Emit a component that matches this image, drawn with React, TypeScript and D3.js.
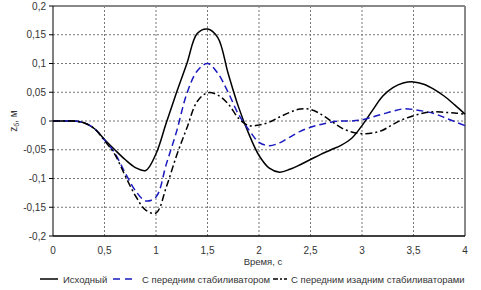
import React from "react";
import * as d3 from "d3";

const time = [0, 0.1, 0.2, 0.3, 0.4, 0.5, 0.6, 0.7, 0.8, 0.9, 1.0, 1.1, 1.2, 1.3, 1.4, 1.5, 1.6, 1.7, 1.8, 1.9, 2.0, 2.1, 2.2, 2.3, 2.4, 2.5, 2.6, 2.7, 2.8, 2.9, 3.0, 3.1, 3.2, 3.3, 3.4, 3.5, 3.6, 3.7, 3.8, 3.9, 4.0];

const original = [0, 0, 0, -0.003, -0.013, -0.032, -0.05, -0.067, -0.081, -0.086, -0.057, -0.003, 0.05, 0.1, 0.152, 0.16, 0.145, 0.083, 0.025, -0.022, -0.06, -0.082, -0.089, -0.084, -0.076, -0.067, -0.058, -0.05, -0.042, -0.03, -0.008, 0.018, 0.043, 0.058, 0.066, 0.068, 0.064, 0.055, 0.043, 0.028, 0.012];

const frontStab = [0, 0, 0, -0.003, -0.013, -0.033, -0.056, -0.09, -0.121, -0.139, -0.132, -0.075, -0.018, 0.048, 0.087, 0.1, 0.083, 0.05, 0.012, -0.015, -0.037, -0.043, -0.038, -0.028, -0.018, -0.011, -0.006, -0.002, 0, 0, 0.002, 0.007, 0.012, 0.017, 0.021, 0.02, 0.017, 0.013, 0.006, -0.001, -0.008];

const frontRearStab = [0, 0, 0, -0.003, -0.013, -0.034, -0.058, -0.095, -0.13, -0.155, -0.16, -0.115, -0.06, -0.012, 0.034, 0.049, 0.045, 0.03, 0.005, -0.008, -0.007, -0.002, 0.007, 0.015, 0.021, 0.02, 0.012, 0, -0.012, -0.019, -0.022, -0.021, -0.016, -0.006, 0.003, 0.009, 0.014, 0.016, 0.015, 0.014, 0.012];

const xTicks = [0, 0.5, 1, 1.5, 2, 2.5, 3, 3.5, 4];
const yTicks = [-0.2, -0.15, -0.1, -0.05, 0, 0.05, 0.1, 0.15, 0.2];
const legendLabels = ["Исходный", "С передним стабиливатором", "С передним изадним стабиливаторами"];

const W = 481;
const H = 290;
const L = 53;
const R = 465;
const T = 6;
const B = 236;

const fmt = (v: number) => {
  const s = String(Math.round(v * 1000) / 1000);
  return s.replace(".", ",");
};

export default function App() {
  const x = d3.scaleLinear().domain([0, 4]).range([L, R]);
  const y = d3.scaleLinear().domain([-0.2, 0.2]).range([B, T]);
  const line = d3
    .line<number>()
    .x((_, i) => x(time[i]))
    .y((d) => y(d))
    .curve(d3.curveCatmullRom.alpha(0.5));

  const series = [
    { data: original, color: "#000", dash: undefined as string | undefined },
    { data: frontStab, color: "#1a1ac0", dash: "7,4" },
    { data: frontRearStab, color: "#000", dash: "7,3,2,3" },
  ];

  const legendPos = [
    { lx: 40, lw: 18, tx: 63 },
    { lx: 113, lw: 19, tx: 142 },
    { lx: 273, lw: 14, tx: 291 },
  ];
  const font = "'Liberation Sans', Arial, sans-serif";

  return (
    <svg
      width={W}
      height={H}
      style={{ position: "absolute", left: 0, top: 0, background: "#fff" }}
      fontFamily={font}
    >
      <rect x={0} y={0} width={W} height={H} fill="#fff" />
      {xTicks.slice(1, -1).map((t) => (
        <line key={"gx" + t} x1={x(t)} x2={x(t)} y1={T} y2={B} stroke="#777" strokeWidth={1} strokeDasharray="2,2" />
      ))}
      {yTicks.slice(1, -1).map((t) => (
        <line key={"gy" + t} x1={L} x2={R} y1={y(t)} y2={y(t)} stroke="#777" strokeWidth={1} strokeDasharray="2,2" />
      ))}
      <line x1={L} x2={R} y1={T} y2={T} stroke="#888" strokeWidth={2} />
      <line x1={R} x2={R} y1={T} y2={B} stroke="#888" strokeWidth={2} />
      <line x1={L} x2={L} y1={T} y2={B} stroke="#000" strokeWidth={1} />
      <line x1={L} x2={R} y1={B} y2={B} stroke="#000" strokeWidth={1.5} />
      {yTicks.map((t) => (
        <g key={"ty" + t}>
          <line x1={L - 4} x2={L} y1={y(t)} y2={y(t)} stroke="#000" strokeWidth={1} />
          <text x={L - 7} y={y(t) + 3.5} fontSize={10} textAnchor="end" fill="#333">
            {fmt(t)}
          </text>
        </g>
      ))}
      {xTicks.map((t) => (
        <text key={"tx" + t} x={x(t)} y={B + 18} fontSize={10} textAnchor="middle" fill="#333">
          {fmt(t)}
        </text>
      ))}
      <text x={263} y={265} fontSize={9.5} textAnchor="middle" fill="#333">
        Время, с
      </text>
      <text transform={`translate(17,121) rotate(-90)`} fontSize={10} textAnchor="middle" fill="#333">
        z<tspan fontSize={7} dy={2}>б</tspan>
        <tspan dy={-2}>, м</tspan>
      </text>
      {series.map((s, i) => (
        <path
          key={"s" + i}
          d={line(s.data) || ""}
          fill="none"
          stroke={s.color}
          strokeWidth={1.5}
          strokeDasharray={s.dash}
        />
      ))}
      {series.map((s, i) => (
        <g key={"lg" + i}>
          <line
            x1={legendPos[i].lx}
            x2={legendPos[i].lx + legendPos[i].lw}
            y1={279}
            y2={279}
            stroke={s.color}
            strokeWidth={1.5}
            strokeDasharray={i === 2 ? "5,2,2,2" : i === 1 ? "7,5" : undefined}
          />
          <text x={legendPos[i].tx} y={282.5} fontSize={9.5} fill="#333">
            {legendLabels[i]}
          </text>
        </g>
      ))}
    </svg>
  );
}
